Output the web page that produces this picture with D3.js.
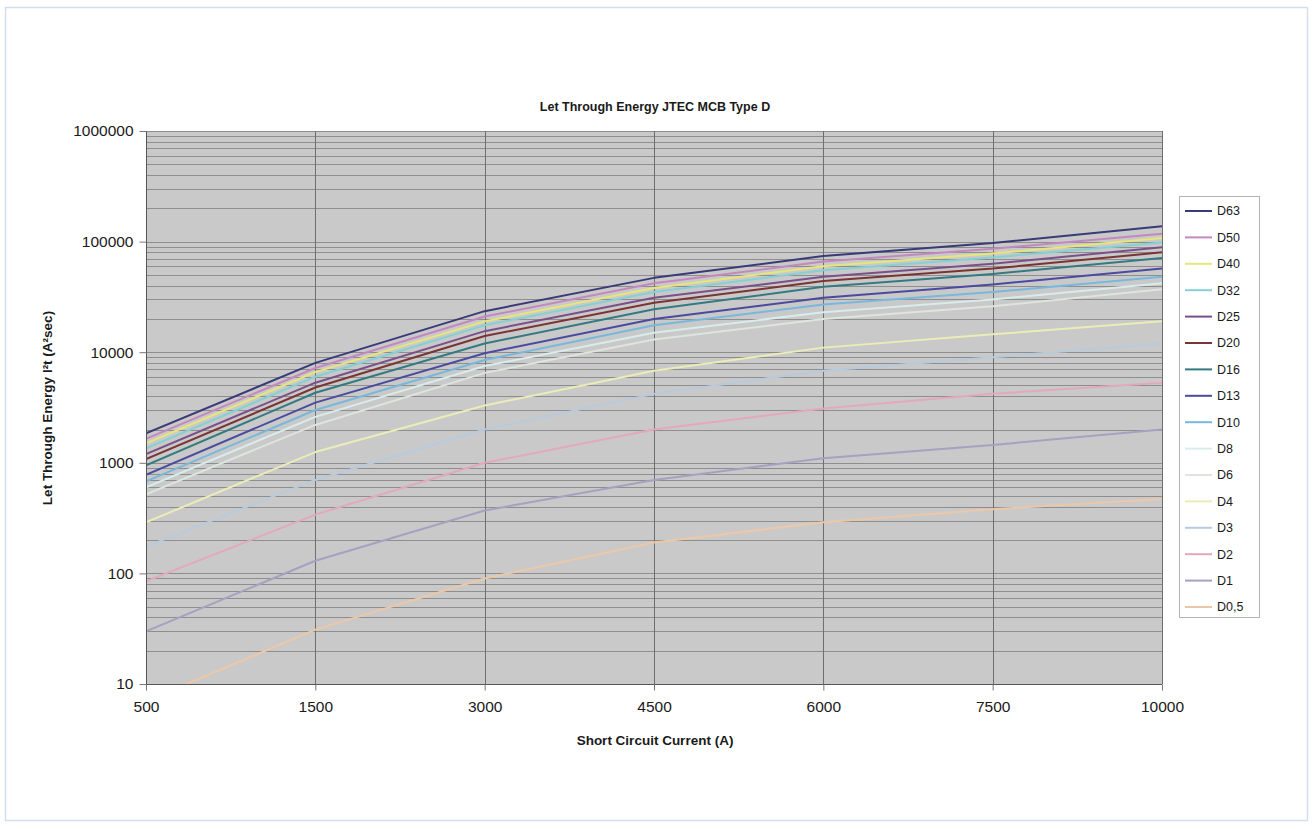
<!DOCTYPE html>
<html><head><meta charset="utf-8">
<script src="https://cdn.jsdelivr.net/npm/d3@7"></script>
<style>body{margin:0;background:#fff}svg{display:block;font-family:"Liberation Sans",Arial,sans-serif}</style>
</head><body>
<svg id="c" width="1314" height="829"></svg>
<script>
const categories = ["500","1500","3000","4500","6000","7500","10000"];
const seriesNames = ["D63","D50","D40","D32","D25","D20","D16","D13","D10","D8","D6","D4","D3","D2","D1","D0,5"];
const seriesColors = ["#3a3a78","#c488c0","#e6e67a","#86d0d4","#7a4f8a","#7a3434","#347a80","#4a4aa0","#78b8dc","#d8ecec","#dce6dc","#ececb8","#b8cade","#e4a8bc","#a4a2c0","#ecc8a8"];
const D63 = [1850, 8000, 23500, 47000, 74000, 97000, 138000];
const D50 = [1650, 7200, 21000, 42000, 66000, 86000, 118000];
const D40 = [1500, 6600, 19000, 38000, 60000, 78000, 108000];
const D32 = [1350, 6000, 17500, 35000, 55000, 72000, 98000];
const D25 = [1200, 5300, 15500, 31000, 48000, 63000, 89000];
const D20 = [1080, 4800, 14000, 28000, 44000, 57000, 80000];
const D16 = [950, 4300, 12000, 24500, 39000, 51000, 71000];
const D13 = [780, 3500, 9800, 20000, 31000, 41000, 57000];
const D10 = [680, 3000, 8500, 17500, 27000, 35000, 48000];
const D8 = [600, 2600, 7500, 15000, 23000, 30000, 42000];
const D6 = [520, 2200, 6500, 13000, 20000, 26000, 37000];
const D4 = [290, 1250, 3300, 6800, 11000, 14500, 19000];
const D3 = [175, 700, 2000, 4200, 6800, 9000, 12000];
const D2 = [85, 340, 1000, 2000, 3100, 4200, 5300];
const D1 = [30, 130, 370, 700, 1100, 1450, 2000];
const D05 = [7, 31, 90, 190, 290, 380, 470];
const yTicks = [10, 100, 1000, 10000, 100000, 1000000];

const seriesValues = [D63,D50,D40,D32,D25,D20,D16,D13,D10,D8,D6,D4,D3,D2,D1,D05];

const svg = d3.select("#c");
const L = 146, R = 1162, T = 131, B = 684;

svg.append("rect").attr("x",5.5).attr("y",7.5).attr("width",1302).attr("height",813)
  .attr("fill","#fff").attr("stroke","#d3deee").attr("stroke-width",1.5);

const x = d3.scalePoint().domain(categories).range([L, R]);
const y = d3.scaleLog().domain([10, 1000000]).range([B, T]);

// plot background
svg.append("rect").attr("x",L).attr("y",T).attr("width",R-L).attr("height",B-T).attr("fill","#c9c9c9");

// horizontal minor/major gridlines
const gridVals = [];
for (let p = 10; p < 1000000; p *= 10) for (let k = 1; k < 10; k++) gridVals.push(p*k);
gridVals.push(1000000);
svg.append("g").selectAll("line").data(gridVals).join("line")
  .attr("x1",L).attr("x2",R).attr("y1",d=>Math.round(y(d))+0.5).attr("y2",d=>Math.round(y(d))+0.5)
  .attr("stroke","#8e8e8e").attr("stroke-width",1);

// vertical gridlines
svg.append("g").selectAll("line").data(categories).join("line")
  .attr("x1",d=>Math.round(x(d))+0.5).attr("x2",d=>Math.round(x(d))+0.5).attr("y1",T).attr("y2",B)
  .attr("stroke","#6e6e6e").attr("stroke-width",1);

// lines
svg.append("clipPath").attr("id","pc").append("rect").attr("x",L).attr("y",T).attr("width",R-L).attr("height",B-T);
const line = d3.line().x((d,i)=>x(categories[i])).y(d=>y(d));
const lg = svg.append("g").attr("clip-path","url(#pc)");
seriesValues.slice().reverse().forEach((vals, ri) => {
  const i = seriesValues.length-1-ri;
  lg.append("path").datum(vals).attr("d", line).attr("fill","none")
    .attr("stroke", seriesColors[i]).attr("stroke-width", 2).attr("stroke-linejoin","round");
});

// axes
const yAxis = d3.axisLeft(y).tickValues(yTicks).tickFormat(d3.format("d")).tickSize(7).tickPadding(6);
const ga = svg.append("g").attr("transform",`translate(${L+0.5},0)`).call(yAxis);
ga.select(".domain").attr("stroke","#555").attr("d",`M0,${T}V${B}`);
ga.selectAll(".tick line").attr("stroke","#777");
ga.selectAll("text").attr("font-size",15.5).attr("fill","#1a1a1a").attr("font-family","Liberation Sans, Arial");

const xAxis = d3.axisBottom(x).tickSize(6).tickPadding(10);
const gx = svg.append("g").attr("transform",`translate(0,${B+0.5})`).call(xAxis);
gx.select(".domain").attr("stroke","#555").attr("d",`M${L},0H${R}`);
gx.selectAll(".tick line").attr("stroke","#777");
gx.selectAll("text").attr("font-size",15.5).attr("fill","#1a1a1a").attr("font-family","Liberation Sans, Arial");

// titles
svg.append("text").attr("x",655).attr("y",111).attr("text-anchor","middle")
  .attr("font-size",12.5).attr("font-weight","bold").attr("fill","#1a1a1a").text("Let Through Energy JTEC MCB Type D");
svg.append("text").attr("x",655).attr("y",745).attr("text-anchor","middle")
  .attr("font-size",13.5).attr("font-weight","bold").attr("fill","#1a1a1a").text("Short Circuit Current (A)");
svg.append("text").attr("transform","translate(52,408) rotate(-90)").attr("text-anchor","middle")
  .attr("font-size",13.5).attr("font-weight","bold").attr("fill","#1a1a1a").text("Let Through Energy I²t  (A²sec)");

// legend
const lgX = 1179, lgY = 196;
svg.append("rect").attr("x",lgX+0.5).attr("y",lgY+0.5).attr("width",80).attr("height",421)
  .attr("fill","#fff").attr("stroke","#b4b4b4");
const items = svg.append("g").selectAll("g").data(seriesNames).join("g")
  .attr("transform",(d,i)=>`translate(${lgX},${lgY+15+i*26.4})`);
items.append("line").attr("x1",6).attr("x2",33).attr("stroke",(d,i)=>seriesColors[i]).attr("stroke-width",2);
items.append("text").attr("x",38).attr("dy","0.35em").attr("font-size",12.5).attr("fill","#1a1a1a").text(d=>d);
</script>
</body></html>
